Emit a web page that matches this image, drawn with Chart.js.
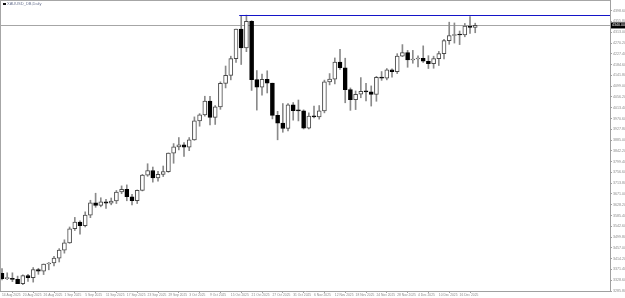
<!DOCTYPE html>
<html><head><meta charset="utf-8">
<script src="https://cdn.jsdelivr.net/npm/chart.js@4.4.0/dist/chart.umd.min.js"></script>
<style>html,body{margin:0;padding:0;background:#fff;overflow:hidden}#wrap{width:625px;height:298px;position:relative}</style>
</head><body><div id="wrap"><canvas id="c" width="625" height="298"></canvas></div>
<script>
const title = "XAUUSD_DB,Daily";
const dates = [
"14 Aug 2025","15 Aug 2025","18 Aug 2025","19 Aug 2025","20 Aug 2025","21 Aug 2025","22 Aug 2025","25 Aug 2025","26 Aug 2025","27 Aug 2025","28 Aug 2025","29 Aug 2025",
"1 Sep 2025","2 Sep 2025","3 Sep 2025","4 Sep 2025","5 Sep 2025","8 Sep 2025","9 Sep 2025","10 Sep 2025","11 Sep 2025","12 Sep 2025","15 Sep 2025","16 Sep 2025","17 Sep 2025","18 Sep 2025","19 Sep 2025","22 Sep 2025","23 Sep 2025","24 Sep 2025","25 Sep 2025","26 Sep 2025","29 Sep 2025","30 Sep 2025",
"1 Oct 2025","2 Oct 2025","3 Oct 2025","6 Oct 2025","7 Oct 2025","8 Oct 2025","9 Oct 2025","10 Oct 2025","13 Oct 2025","14 Oct 2025","15 Oct 2025","16 Oct 2025","17 Oct 2025","20 Oct 2025","21 Oct 2025","22 Oct 2025","23 Oct 2025","24 Oct 2025","27 Oct 2025","28 Oct 2025","29 Oct 2025","30 Oct 2025","31 Oct 2025",
"3 Nov 2025","4 Nov 2025","5 Nov 2025","6 Nov 2025","7 Nov 2025","10 Nov 2025","11 Nov 2025","12 Nov 2025","13 Nov 2025","14 Nov 2025","17 Nov 2025","18 Nov 2025","19 Nov 2025","20 Nov 2025","21 Nov 2025","24 Nov 2025","25 Nov 2025","26 Nov 2025","27 Nov 2025","28 Nov 2025",
"1 Dec 2025","2 Dec 2025","3 Dec 2025","4 Dec 2025","5 Dec 2025","8 Dec 2025","9 Dec 2025","10 Dec 2025","11 Dec 2025","12 Dec 2025","15 Dec 2025","16 Dec 2025","17 Dec 2025","18 Dec 2025","19 Dec 2025"];
const openP  = [3356,3335,3336,3332,3315,3347,3339,3371,3365,3393,3397,3416,
3448,3477,3533,3559,3545,3587,3636,3626,3640,3634,3643,3679,3689,3660,3644,3685,3746,3764,3735,3749,3760,3833,
3858,3866,3857,3886,3961,3985,4040,3975,4017,4110,4142,4208,4326,4251,4356,4125,4095,4126,4111,3983,3952,3931,4025,
4002,4001,3932,3980,3977,4001,4116,4127,4195,4172,4085,4045,4067,4078,4076,4066,4134,4131,4164,4157,
4218,4232,4203,4207,4209,4198,4188,4208,4228,4280,4300,4304,4302,4338,4332];
const highP  = [3375,3358,3358,3345,3350,3352,3379,3376,3393,3399,3423,3454,
3489,3540,3578,3564,3600,3646,3674,3656,3650,3655,3685,3703,3707,3670,3687,3749,3791,3778,3761,3782,3834,3871,
3895,3875,3895,3977,3990,4059,4059,4022,4116,4179,4218,4326,4379,4381,4359,4161,4147,4160,4111,3999,4030,4030,4034,
4044,4005,3993,4020,4022,4123,4149,4211,4245,4210,4092,4080,4133,4110,4100,4138,4157,4169,4168,4228,
4264,4241,4241,4219,4259,4220,4218,4237,4285,4353,4350,4318,4348,4375,4349];
const lowP   = [3330,3331,3323,3315,3311,3324,3321,3352,3351,3370,3385,3401,
3436,3475,3526,3511,3540,3577,3618,3620,3614,3628,3633,3672,3644,3628,3633,3683,3741,3718,3722,3740,3757,3793,
3846,3820,3843,3884,3940,3980,3945,3947,4007,4092,4124,4193,4185,4236,4082,4004,4063,4072,3969,3886,3916,3921,3964,
3961,3929,3929,3973,3968,3993,4104,4108,4165,4033,4003,4006,4053,4040,4020,4039,4122,4124,4135,4149,
4216,4174,4190,4175,4193,4169,4170,4181,4207,4265,4270,4264,4295,4308,4311];
const closeP = [3335,3336,3332,3315,3347,3339,3371,3365,3393,3397,3416,3448,
3477,3533,3559,3545,3587,3636,3626,3640,3634,3643,3679,3689,3660,3644,3685,3746,3764,3735,3749,3760,3833,3858,
3866,3857,3886,3961,3985,4040,3975,4017,4110,4142,4208,4326,4251,4356,4125,4095,4126,4111,3983,3952,3931,4025,4002,
4001,3932,3980,3977,4001,4116,4127,4195,4172,4085,4045,4067,4078,4076,4066,4134,4131,4164,4157,4218,
4232,4203,4207,4209,4198,4188,4208,4228,4280,4300,4304,4302,4338,4332,4340];
const priceTicks = [3285.80,3328.60,3371.40,3414.20,3457.00,3499.80,3542.60,3585.40,3628.20,3671.00,3713.80,3756.60,3799.40,3842.20,3885.00,3927.80,3970.60,4013.40,4056.20,4099.00,4141.80,4184.60,4227.40,4270.20,4313.00,4355.80,4398.60];
const lastPrice = 4340.00;
const levelPrice = 4381.50;
const levelStartIndex = 46;
const dateTickIdx = [0,4,8,12,16,20,24,28,32,36,40,44,48,52,56,60,64,68,72,76,80,84,88];

const bodies = dates.map((d,i)=>({x:i, y:[openP[i], closeP[i]]}));
const wicks  = dates.map((d,i)=>({x:i, y:[lowP[i], highP[i]]}));
const isUp = dates.map((d,i)=>closeP[i] >= openP[i]);

const overlay = {
  id:'overlay',
  beforeDatasetsDraw(chart){
    const {ctx, chartArea:a, scales:{x,y}} = chart;
    ctx.save();
    const yp = Math.round(y.getPixelForValue(lastPrice))+0.5;
    ctx.strokeStyle='#a6a6a6'; ctx.lineWidth=1;
    ctx.beginPath(); ctx.moveTo(a.left, yp); ctx.lineTo(a.right, yp); ctx.stroke();
    ctx.restore();
  },
  afterDatasetsDraw(chart){
    const {ctx, chartArea:a, scales:{x,y}} = chart;
    ctx.save();
    const yl = Math.round(y.getPixelForValue(levelPrice))+0.5;
    ctx.strokeStyle='#1414c8'; ctx.lineWidth=1;
    ctx.beginPath(); ctx.moveTo(x.getPixelForValue(levelStartIndex)-2, yl); ctx.lineTo(a.right, yl); ctx.stroke();
    ctx.strokeStyle='#a6a6a6';
    ctx.beginPath(); ctx.moveTo(a.left, 0.5); ctx.lineTo(a.right, 0.5); ctx.stroke();
    ctx.beginPath(); ctx.moveTo(a.left+0.5, 0); ctx.lineTo(a.left+0.5, a.bottom); ctx.stroke();
    ctx.fillStyle='#111'; ctx.fillRect(3,3,3,2);
    ctx.fillStyle='#6a7390'; ctx.font='4px "Liberation Sans"'; ctx.textBaseline='middle'; ctx.textAlign='left';
    ctx.fillText(title, 7, 4);
    ctx.restore();
  },
  afterDraw(chart){
    const {ctx, chartArea:a, scales:{y}} = chart;
    ctx.save();
    const yp = y.getPixelForValue(lastPrice);
    ctx.fillStyle='#000'; ctx.fillRect(a.right+1, yp-3, 625-a.right-1, 6);
    ctx.fillStyle='#fff'; ctx.font='3.6px "Liberation Sans"'; ctx.textBaseline='middle'; ctx.textAlign='left';
    ctx.fillText(lastPrice.toFixed(2), a.right+2, yp);
    ctx.restore();
  }
};

new Chart(document.getElementById('c'), {
  type:'bar',
  data:{datasets:[
    {data:bodies, barThickness:4, minBarLength:1, grouped:false,
     backgroundColor: isUp.map(u=>u?'#ffffff':'#000000'),
     borderColor: isUp.map(u=>u?'#4a4a4a':'#000000'), borderWidth:1, borderSkipped:false},
    {data:wicks, barThickness:1, grouped:false, backgroundColor:'#8a8a8a', borderWidth:0}
  ]},
  options:{
    responsive:false, animation:false, devicePixelRatio:1,
    layout:{padding:0},
    plugins:{legend:{display:false}, tooltip:{enabled:false}},
    scales:{
      x:{type:'linear', position:'bottom', min:-0.385, max:116.92, offset:false,
         afterBuildTicks(s){ s.ticks = dateTickIdx.map(v=>({value:v})); },
         afterFit(s){ s.height = 7; s.paddingLeft=0; s.paddingRight=0; },
         ticks:{autoSkip:false, maxRotation:0, minRotation:0, align:'start', padding:0,
                font:{size:3.3, family:'Liberation Sans'}, color:'#8a8a8a',
                callback:(v)=>dates[v]},
         grid:{drawOnChartArea:false, tickLength:2, color:'#a0a0a0'},
         border:{display:true, color:'#a0a0a0'}},
      y:{type:'linear', position:'right', min:3285.8, max:4441.05,
         afterBuildTicks(s){ s.ticks = priceTicks.map(v=>({value:v})); },
         afterFit(s){ s.width = 15; s.paddingTop=0; s.paddingBottom=0; },
         ticks:{padding:1, font:{size:3.6, family:'Liberation Sans'}, color:'#8a8a8a',
                callback:(v)=>Number(v).toFixed(2)},
         grid:{drawOnChartArea:false, tickLength:2, color:'#a0a0a0'},
         border:{display:true, color:'#a0a0a0'}}
    }
  },
  plugins:[overlay]
});
</script></body></html>
